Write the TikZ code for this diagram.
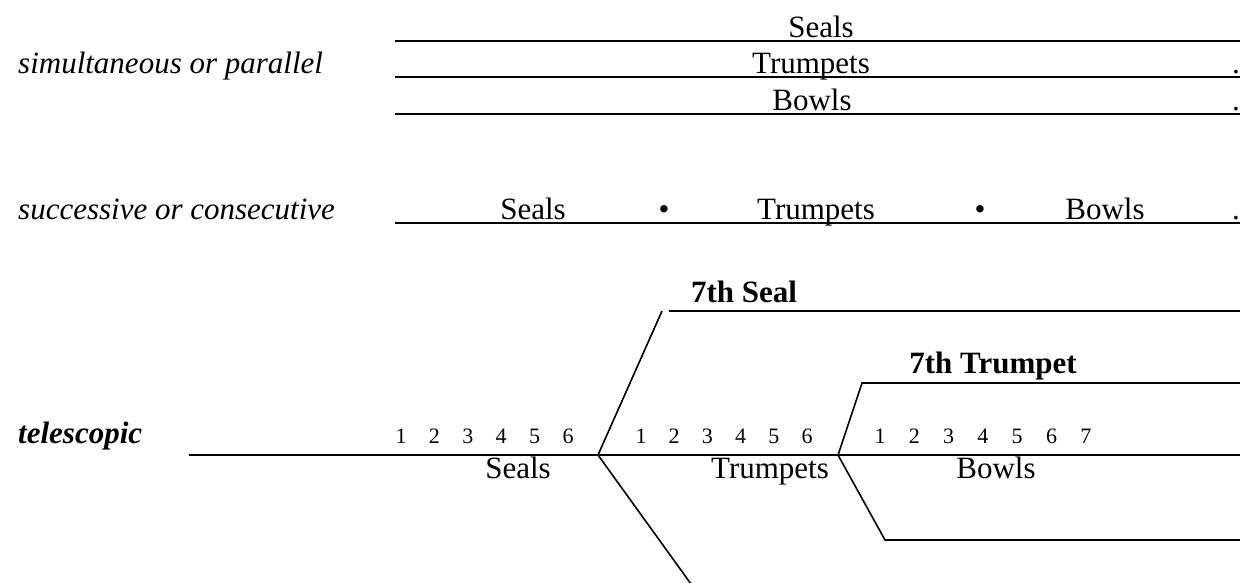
\documentclass[tikz,border=0pt]{standalone}
\usepackage{fontspec}
\setmainfont{Liberation Serif}
\begin{document}
\begin{tikzpicture}[x=1pt,y=-1pt,
  lbl/.style={anchor=base,inner sep=0pt,font=\fontsize{31}{36}\selectfont},
  bl/.style={anchor=base,inner sep=0pt,font=\fontsize{31}{36}\selectfont\bfseries},
  side/.style={anchor=base west,inner sep=0pt,font=\fontsize{31}{36}\selectfont\itshape},
  num/.style={anchor=base,inner sep=0pt,font=\fontsize{22}{26}\selectfont},
  rule/.style={line width=2pt},
  slash/.style={line width=1.6pt}]
\useasboundingbox (0,0) rectangle (1240,582);

% simultaneous
\node[side] (sim) at (18,73) {simultaneous or parallel};
\coordinate (a1) at (395,41); \coordinate (a2) at (1240,41);
\coordinate (b1) at (395,77); \coordinate (b2) at (1240,77);
\coordinate (c1) at (395,114); \coordinate (c2) at (1240,114);
\draw[rule] (a1) -- (a2);
\draw[rule] (b1) -- (b2);
\draw[rule] (c1) -- (c2);
\node[lbl] (s1) at (821,37) {Seals};
\node[lbl] (t1) at (811,73) {Trumpets};
\node[lbl] (w1) at (812,110) {Bowls};
\node[lbl,anchor=base east] (p1) at (1240,73) {.};
\node[lbl,anchor=base east] (p2) at (1240,110) {.};

% successive
\node[side] (suc) at (18,219) {successive or consecutive};
\coordinate (d1) at (395,223); \coordinate (d2) at (1240,223);
\draw[rule] (d1) -- (d2);
\node[lbl] (s2) at (533,219) {Seals};
\node[lbl] (b2a) at (664,219) {•};
\node[lbl] (t2) at (816,219) {Trumpets};
\node[lbl] (b2b) at (980,219) {•};
\node[lbl] (w2) at (1105,219) {Bowls};
\node[lbl,anchor=base east] (p3) at (1240,219) {.};

% telescopic
\node[side,font=\fontsize{31}{36}\selectfont\bfseries\itshape] (tel) at (18,443) {telescopic};
\coordinate (m0) at (189,455);
\coordinate (v1) at (598,455);
\coordinate (v2) at (838,455);
\coordinate (m3) at (1240,455);
\coordinate (u1) at (662,311);
\coordinate (u1a) at (669,311);
\coordinate (u1b) at (1240,311);
\coordinate (l1) at (691,584);
\coordinate (u2) at (862,383);
\coordinate (u2b) at (1240,383);
\coordinate (l2) at (885,540);
\coordinate (l2b) at (1240,540);
\draw[rule] (m0) -- (v1) -- (v2) -- (m3);
\draw[slash] (v1) -- (u1);
\draw[rule] (u1a) -- (u1b);
\draw[slash] (v1) -- (l1);
\draw[slash,line join=miter] (v2) -- (u2) -- (u2b);
\draw[slash,line join=miter] (v2) -- (l2) -- (l2b);
\draw[rule] (u2) -- (u2b);
\draw[rule] (l2) -- (l2b);
\node[bl] (sev1) at (744,302) {7th Seal};
\node[bl] (sev2) at (993,373) {7th Trumpet};
\foreach \i [count=\k from 0] in {1,...,6} {
  \node[num] (na\i) at ({401+33.4*\k},443) {\i};
  \node[num] (nb\i) at ({641+33.2*\k},443) {\i};
}
\foreach \i [count=\k from 0] in {1,...,7} {
  \node[num] (nc\i) at ({880+34.3*\k},443) {\i};
}
\node[lbl] (s3) at (518,478) {Seals};
\node[lbl] (t3) at (770,478) {Trumpets};
\node[lbl] (w3) at (996,478) {Bowls};
\end{tikzpicture}
\end{document}
